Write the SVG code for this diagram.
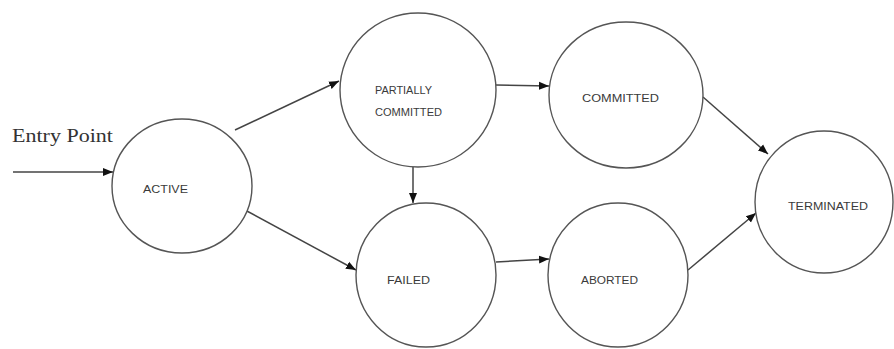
<svg xmlns="http://www.w3.org/2000/svg" width="894" height="349" viewBox="0 0 894 349">
<defs>
<style>
.node{fill:#fff;stroke:#555;stroke-width:1.4}
.lbl{font-family:"Liberation Sans",Arial,sans-serif;font-size:10px;fill:#3a3a3a}
.edge{stroke:#444;stroke-width:1.5;fill:none;marker-end:url(#ah)}
.entry{font-family:"Liberation Serif","Times New Roman",serif;font-size:18px;fill:#333}
</style>
<marker id="ah" markerUnits="userSpaceOnUse" markerWidth="10" markerHeight="10" viewBox="0 0 10 10" refX="10" refY="5" orient="auto">
<path d="M0,1 L10,5 L0,9 Z" fill="#111"/>
</marker>
</defs>
<rect width="894" height="349" fill="#fff"/>
<text class="entry" x="12" y="142" textLength="101" lengthAdjust="spacingAndGlyphs">Entry Point</text>
<g id="connectors">
<line class="edge" x1="13" y1="172" x2="113" y2="172"/>
<line class="edge" x1="235" y1="130" x2="339" y2="81"/>
<line class="edge" x1="245" y1="210" x2="356" y2="270"/>
<line class="edge" x1="413" y1="167" x2="413" y2="203"/>
<line class="edge" x1="496" y1="85" x2="549" y2="86"/>
<line class="edge" x1="496" y1="262" x2="549" y2="259"/>
<line class="edge" x1="703" y1="97" x2="768" y2="154"/>
<line class="edge" x1="688" y1="270" x2="756" y2="213"/>
</g>
<g id="active">
<ellipse class="node" cx="182" cy="186" rx="70" ry="67"/>
<text class="lbl" x="143" y="193" textLength="45" lengthAdjust="spacingAndGlyphs">ACTIVE</text>
</g>
<g id="partially-committed">
<ellipse class="node" cx="418" cy="90" rx="78" ry="77"/>
<text class="lbl" x="375" y="94" textLength="57" lengthAdjust="spacingAndGlyphs">PARTIALLY</text>
<text class="lbl" x="375" y="116" textLength="67" lengthAdjust="spacingAndGlyphs">COMMITTED</text>
</g>
<g id="committed">
<ellipse class="node" cx="626" cy="95" rx="77" ry="73"/>
<text class="lbl" x="582" y="102" textLength="77" lengthAdjust="spacingAndGlyphs">COMMITTED</text>
</g>
<g id="failed">
<ellipse class="node" cx="426" cy="275" rx="70" ry="72"/>
<text class="lbl" x="387" y="284" textLength="43" lengthAdjust="spacingAndGlyphs">FAILED</text>
</g>
<g id="aborted">
<ellipse class="node" cx="618" cy="275" rx="70" ry="72"/>
<text class="lbl" x="581" y="284" textLength="57" lengthAdjust="spacingAndGlyphs">ABORTED</text>
</g>
<g id="terminated">
<ellipse class="node" cx="824" cy="202" rx="69" ry="71"/>
<text class="lbl" x="788" y="210" textLength="80" lengthAdjust="spacingAndGlyphs">TERMINATED</text>
</g>
</svg>
